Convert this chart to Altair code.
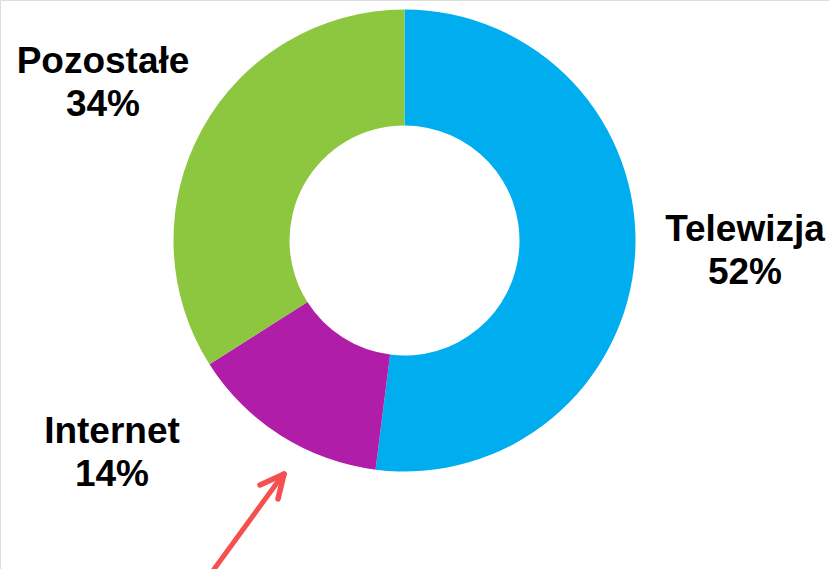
import altair as alt
import pandas as pd

categories = ["Telewizja", "Internet", "Pozostałe"]
shares = [52, 14, 34]
colors = ["#00AEEF", "#B01EA9", "#8DC63F"]

df = pd.DataFrame({"kategoria": categories, "udzial": shares, "kolejnosc": list(range(len(categories)))})

W, H = 829, 569
CX, CY = 404.5, 240.5

donut = alt.Chart(df).mark_arc(outerRadius=231, innerRadius=115).encode(
    theta=alt.Theta("udzial:Q", stack=True),
    order=alt.Order("kolejnosc:Q"),
    color=alt.Color("kategoria:N", scale=alt.Scale(domain=categories, range=colors), legend=None),
    x=alt.value(CX),
    y=alt.value(CY),
)

label_pos = {"Telewizja": (745, 241), "Internet": (112, 443), "Pozostałe": (103, 73)}
layers = [donut]
for cat, val in zip(categories, shares):
    lx, ly = label_pos[cat]
    sub = df[df["kategoria"] == cat]
    t1 = alt.Chart(sub).mark_text(font="Liberation Sans", fontWeight="bold", fontSize=37,
                                  align="center", baseline="alphabetic", color="black").encode(
        text="kategoria:N", x=alt.value(lx), y=alt.value(ly))
    t2 = alt.Chart(sub).transform_calculate(lab="datum.udzial + '%'").mark_text(
        font="Liberation Sans", fontWeight="bold", fontSize=37,
        align="center", baseline="alphabetic", color="black").encode(
        text="lab:N", x=alt.value(lx), y=alt.value(ly + 43))
    layers += [t1, t2]

arrow_color = "#F5504F"
shaft = alt.Chart(df.head(1)).mark_rule(color=arrow_color, strokeWidth=5, strokeCap="round").encode(
    x=alt.value(212), y=alt.value(572), x2=alt.value(282), y2=alt.value(476))
wing1 = alt.Chart(df.head(1)).mark_rule(color=arrow_color, strokeWidth=5.5, strokeCap="round").encode(
    x=alt.value(284), y=alt.value(474), x2=alt.value(260), y2=alt.value(485))
wing2 = alt.Chart(df.head(1)).mark_rule(color=arrow_color, strokeWidth=5.5, strokeCap="round").encode(
    x=alt.value(284), y=alt.value(474), x2=alt.value(278), y2=alt.value(499))
layers += [shaft, wing1, wing2]

chart = alt.layer(*layers).properties(
    width=W, height=H, padding=0, autosize=alt.AutoSizeParams(type="none")
).configure_view(stroke=None).configure(background="white")

chart.save("out.html", embed_options={"renderer": "svg", "actions": False})
